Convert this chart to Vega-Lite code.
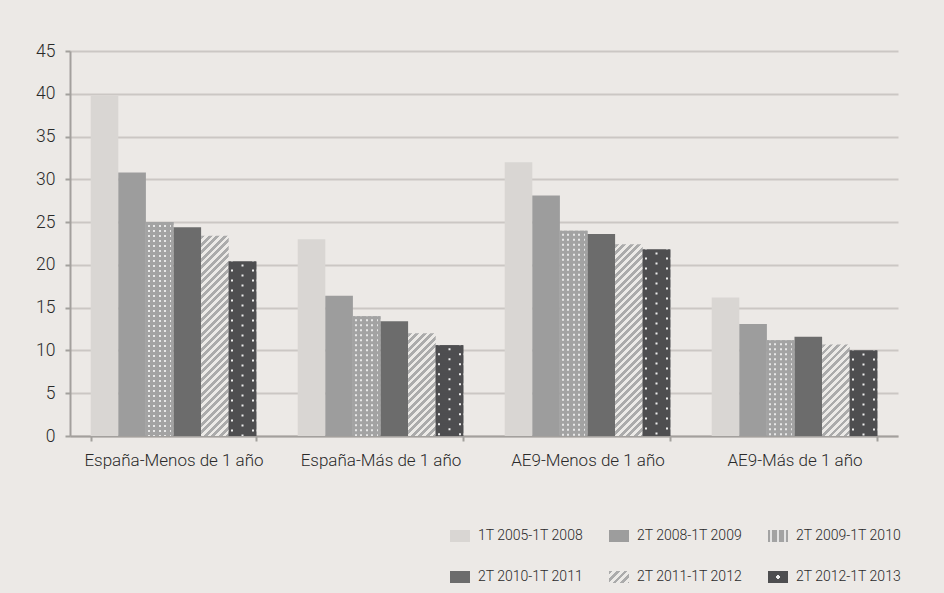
{
  "$schema": "https://vega.github.io/schema/vega-lite/v6.json",
  "width": 828,
  "height": 385,
  "autosize": "none",
  "padding": {"left": 70, "top": 51, "right": 46, "bottom": 157},
  "params": [
    {"name": "dotsMid", "value": [
      {"offset": 0, "color": "#a3a3a3"}, {"offset": 0.0725, "color": "#a3a3a3"}, {"offset": 0.0725, "color": "#e8e8e8"}, {"offset": 0.1449, "color": "#e8e8e8"}, {"offset": 0.1449, "color": "#a3a3a3"},
      {"offset": 0.2681, "color": "#a3a3a3"}, {"offset": 0.2681, "color": "#e8e8e8"}, {"offset": 0.3406, "color": "#e8e8e8"}, {"offset": 0.3406, "color": "#a3a3a3"},
      {"offset": 0.4638, "color": "#a3a3a3"}, {"offset": 0.4638, "color": "#e8e8e8"}, {"offset": 0.5362, "color": "#e8e8e8"}, {"offset": 0.5362, "color": "#a3a3a3"},
      {"offset": 0.6594, "color": "#a3a3a3"}, {"offset": 0.6594, "color": "#e8e8e8"}, {"offset": 0.7319, "color": "#e8e8e8"}, {"offset": 0.7319, "color": "#a3a3a3"},
      {"offset": 0.8551, "color": "#a3a3a3"}, {"offset": 0.8551, "color": "#e8e8e8"}, {"offset": 0.9275, "color": "#e8e8e8"}, {"offset": 0.9275, "color": "#a3a3a3"},
      {"offset": 1, "color": "#a3a3a3"}
    ]},
    {"name": "dotsLegend", "value": [
      {"offset": 0, "color": "#a3a3a3"}, {"offset": 0.12, "color": "#a3a3a3"}, {"offset": 0.12, "color": "#e4e4e4"}, {"offset": 0.22, "color": "#e4e4e4"}, {"offset": 0.22, "color": "#a3a3a3"},
      {"offset": 0.45, "color": "#a3a3a3"}, {"offset": 0.45, "color": "#e4e4e4"}, {"offset": 0.55, "color": "#e4e4e4"}, {"offset": 0.55, "color": "#a3a3a3"},
      {"offset": 0.78, "color": "#a3a3a3"}, {"offset": 0.78, "color": "#e4e4e4"}, {"offset": 0.88, "color": "#e4e4e4"}, {"offset": 0.88, "color": "#a3a3a3"},
      {"offset": 1, "color": "#a3a3a3"}
    ]},
    {"name": "dotsDark", "value": [
      {"offset": 0, "color": "#4e4e50"}, {"offset": 0.0725, "color": "#4e4e50"}, {"offset": 0.0725, "color": "#eeeeee"}, {"offset": 0.1449, "color": "#eeeeee"}, {"offset": 0.1449, "color": "#4e4e50"},
      {"offset": 0.8551, "color": "#4e4e50"}, {"offset": 0.8551, "color": "#eeeeee"}, {"offset": 0.9275, "color": "#eeeeee"}, {"offset": 0.9275, "color": "#4e4e50"},
      {"offset": 1, "color": "#4e4e50"}
    ]},
    {"name": "stripeStops", "value": [
      {"offset": 0, "color": "#ababab"},
      {"offset": 0.0156, "color": "#ababab"}, {"offset": 0.0156, "color": "#eceae7"},
      {"offset": 0.0313, "color": "#eceae7"}, {"offset": 0.0313, "color": "#ababab"},
      {"offset": 0.0469, "color": "#ababab"}, {"offset": 0.0469, "color": "#eceae7"},
      {"offset": 0.0625, "color": "#eceae7"}, {"offset": 0.0625, "color": "#ababab"},
      {"offset": 0.0781, "color": "#ababab"}, {"offset": 0.0781, "color": "#eceae7"},
      {"offset": 0.0938, "color": "#eceae7"}, {"offset": 0.0938, "color": "#ababab"},
      {"offset": 0.1094, "color": "#ababab"}, {"offset": 0.1094, "color": "#eceae7"},
      {"offset": 0.125, "color": "#eceae7"}, {"offset": 0.125, "color": "#ababab"},
      {"offset": 0.1406, "color": "#ababab"}, {"offset": 0.1406, "color": "#eceae7"},
      {"offset": 0.1563, "color": "#eceae7"}, {"offset": 0.1563, "color": "#ababab"},
      {"offset": 0.1719, "color": "#ababab"}, {"offset": 0.1719, "color": "#eceae7"},
      {"offset": 0.1875, "color": "#eceae7"}, {"offset": 0.1875, "color": "#ababab"},
      {"offset": 0.2031, "color": "#ababab"}, {"offset": 0.2031, "color": "#eceae7"},
      {"offset": 0.2188, "color": "#eceae7"}, {"offset": 0.2188, "color": "#ababab"},
      {"offset": 0.2344, "color": "#ababab"}, {"offset": 0.2344, "color": "#eceae7"},
      {"offset": 0.25, "color": "#eceae7"}, {"offset": 0.25, "color": "#ababab"},
      {"offset": 0.2656, "color": "#ababab"}, {"offset": 0.2656, "color": "#eceae7"},
      {"offset": 0.2813, "color": "#eceae7"}, {"offset": 0.2813, "color": "#ababab"},
      {"offset": 0.2969, "color": "#ababab"}, {"offset": 0.2969, "color": "#eceae7"},
      {"offset": 0.3125, "color": "#eceae7"}, {"offset": 0.3125, "color": "#ababab"},
      {"offset": 0.3281, "color": "#ababab"}, {"offset": 0.3281, "color": "#eceae7"},
      {"offset": 0.3438, "color": "#eceae7"}, {"offset": 0.3438, "color": "#ababab"},
      {"offset": 0.3594, "color": "#ababab"}, {"offset": 0.3594, "color": "#eceae7"},
      {"offset": 0.375, "color": "#eceae7"}, {"offset": 0.375, "color": "#ababab"},
      {"offset": 0.3906, "color": "#ababab"}, {"offset": 0.3906, "color": "#eceae7"},
      {"offset": 0.4063, "color": "#eceae7"}, {"offset": 0.4063, "color": "#ababab"},
      {"offset": 0.4219, "color": "#ababab"}, {"offset": 0.4219, "color": "#eceae7"},
      {"offset": 0.4375, "color": "#eceae7"}, {"offset": 0.4375, "color": "#ababab"},
      {"offset": 0.4531, "color": "#ababab"}, {"offset": 0.4531, "color": "#eceae7"},
      {"offset": 0.4688, "color": "#eceae7"}, {"offset": 0.4688, "color": "#ababab"},
      {"offset": 0.4844, "color": "#ababab"}, {"offset": 0.4844, "color": "#eceae7"},
      {"offset": 0.5, "color": "#eceae7"}, {"offset": 0.5, "color": "#ababab"},
      {"offset": 0.5156, "color": "#ababab"}, {"offset": 0.5156, "color": "#eceae7"},
      {"offset": 0.5313, "color": "#eceae7"}, {"offset": 0.5313, "color": "#ababab"},
      {"offset": 0.5469, "color": "#ababab"}, {"offset": 0.5469, "color": "#eceae7"},
      {"offset": 0.5625, "color": "#eceae7"}, {"offset": 0.5625, "color": "#ababab"},
      {"offset": 0.5781, "color": "#ababab"}, {"offset": 0.5781, "color": "#eceae7"},
      {"offset": 0.5938, "color": "#eceae7"}, {"offset": 0.5938, "color": "#ababab"},
      {"offset": 0.6094, "color": "#ababab"}, {"offset": 0.6094, "color": "#eceae7"},
      {"offset": 0.625, "color": "#eceae7"}, {"offset": 0.625, "color": "#ababab"},
      {"offset": 0.6406, "color": "#ababab"}, {"offset": 0.6406, "color": "#eceae7"},
      {"offset": 0.6563, "color": "#eceae7"}, {"offset": 0.6563, "color": "#ababab"},
      {"offset": 0.6719, "color": "#ababab"}, {"offset": 0.6719, "color": "#eceae7"},
      {"offset": 0.6875, "color": "#eceae7"}, {"offset": 0.6875, "color": "#ababab"},
      {"offset": 0.7031, "color": "#ababab"}, {"offset": 0.7031, "color": "#eceae7"},
      {"offset": 0.7188, "color": "#eceae7"}, {"offset": 0.7188, "color": "#ababab"},
      {"offset": 0.7344, "color": "#ababab"}, {"offset": 0.7344, "color": "#eceae7"},
      {"offset": 0.75, "color": "#eceae7"}, {"offset": 0.75, "color": "#ababab"},
      {"offset": 0.7656, "color": "#ababab"}, {"offset": 0.7656, "color": "#eceae7"},
      {"offset": 0.7813, "color": "#eceae7"}, {"offset": 0.7813, "color": "#ababab"},
      {"offset": 0.7969, "color": "#ababab"}, {"offset": 0.7969, "color": "#eceae7"},
      {"offset": 0.8125, "color": "#eceae7"}, {"offset": 0.8125, "color": "#ababab"},
      {"offset": 0.8281, "color": "#ababab"}, {"offset": 0.8281, "color": "#eceae7"},
      {"offset": 0.8438, "color": "#eceae7"}, {"offset": 0.8438, "color": "#ababab"},
      {"offset": 0.8594, "color": "#ababab"}, {"offset": 0.8594, "color": "#eceae7"},
      {"offset": 0.875, "color": "#eceae7"}, {"offset": 0.875, "color": "#ababab"},
      {"offset": 0.8906, "color": "#ababab"}, {"offset": 0.8906, "color": "#eceae7"},
      {"offset": 0.9063, "color": "#eceae7"}, {"offset": 0.9063, "color": "#ababab"},
      {"offset": 0.9219, "color": "#ababab"}, {"offset": 0.9219, "color": "#eceae7"},
      {"offset": 0.9375, "color": "#eceae7"}, {"offset": 0.9375, "color": "#ababab"},
      {"offset": 0.9531, "color": "#ababab"}, {"offset": 0.9531, "color": "#eceae7"},
      {"offset": 0.9688, "color": "#eceae7"}, {"offset": 0.9688, "color": "#ababab"},
      {"offset": 0.9844, "color": "#ababab"}, {"offset": 0.9844, "color": "#eceae7"},
      {"offset": 1, "color": "#eceae7"}
    ]}
  ],
  "data": {
    "values": [
      {"group": "España-Menos de 1 año", "series": "1T 2005-1T 2008", "value": 39.8},
      {"group": "España-Menos de 1 año", "series": "2T 2008-1T 2009", "value": 30.8},
      {"group": "España-Menos de 1 año", "series": "2T 2009-1T 2010", "value": 25.0},
      {"group": "España-Menos de 1 año", "series": "2T 2010-1T 2011", "value": 24.4},
      {"group": "España-Menos de 1 año", "series": "2T 2011-1T 2012", "value": 23.4},
      {"group": "España-Menos de 1 año", "series": "2T 2012-1T 2013", "value": 20.4},
      {"group": "España-Más de 1 año", "series": "1T 2005-1T 2008", "value": 23.0},
      {"group": "España-Más de 1 año", "series": "2T 2008-1T 2009", "value": 16.4},
      {"group": "España-Más de 1 año", "series": "2T 2009-1T 2010", "value": 14.0},
      {"group": "España-Más de 1 año", "series": "2T 2010-1T 2011", "value": 13.4},
      {"group": "España-Más de 1 año", "series": "2T 2011-1T 2012", "value": 12.0},
      {"group": "España-Más de 1 año", "series": "2T 2012-1T 2013", "value": 10.6},
      {"group": "AE9-Menos de 1 año", "series": "1T 2005-1T 2008", "value": 32.0},
      {"group": "AE9-Menos de 1 año", "series": "2T 2008-1T 2009", "value": 28.1},
      {"group": "AE9-Menos de 1 año", "series": "2T 2009-1T 2010", "value": 24.0},
      {"group": "AE9-Menos de 1 año", "series": "2T 2010-1T 2011", "value": 23.6},
      {"group": "AE9-Menos de 1 año", "series": "2T 2011-1T 2012", "value": 22.4},
      {"group": "AE9-Menos de 1 año", "series": "2T 2012-1T 2013", "value": 21.8},
      {"group": "AE9-Más de 1 año", "series": "1T 2005-1T 2008", "value": 16.2},
      {"group": "AE9-Más de 1 año", "series": "2T 2008-1T 2009", "value": 13.1},
      {"group": "AE9-Más de 1 año", "series": "2T 2009-1T 2010", "value": 11.2},
      {"group": "AE9-Más de 1 año", "series": "2T 2010-1T 2011", "value": 11.6},
      {"group": "AE9-Más de 1 año", "series": "2T 2011-1T 2012", "value": 10.7},
      {"group": "AE9-Más de 1 año", "series": "2T 2012-1T 2013", "value": 10.0}
    ]
  },
  "encoding": {
    "x": {
      "field": "group",
      "type": "nominal",
      "sort": ["España-Menos de 1 año", "España-Más de 1 año", "AE9-Menos de 1 año", "AE9-Más de 1 año"],
      "scale": {"paddingInner": 0.2, "paddingOuter": 0.1},
      "axis": {
        "title": null,
        "labelAngle": 0,
        "labelFontSize": 17,
        "labelPadding": 11,
        "labelLimit": 0,
        "tickBand": "extent",
        "tickSize": 5,
        "grid": false
      }
    },
    "xOffset": {
      "field": "series",
      "type": "nominal",
      "scale": {
        "domain": ["1T 2005-1T 2008", "2T 2008-1T 2009", "2T 2009-1T 2010", "2T 2010-1T 2011", "2T 2011-1T 2012", "2T 2012-1T 2013"],
        "paddingInner": 0,
        "paddingOuter": 0
      }
    },
    "y": {
      "field": "value",
      "type": "quantitative",
      "scale": {"domain": [0, 45], "nice": false},
      "axis": {
        "title": null,
        "values": [0, 5, 10, 15, 20, 25, 30, 35, 40, 45],
        "labelFontSize": 17.5,
        "labelPadding": 10,
        "tickSize": 5,
        "grid": true,
        "gridColor": "#cbc7c4",
        "gridWidth": 2
      }
    }
  },
  "layer": [
    {
      "mark": {"type": "bar"},
      "encoding": {
        "fill": {
          "field": "series",
          "type": "nominal",
          "scale": {
            "domain": ["1T 2005-1T 2008", "2T 2008-1T 2009", "2T 2009-1T 2010", "2T 2010-1T 2011", "2T 2011-1T 2012", "2T 2012-1T 2013"],
            "range": [
              "#d9d6d3",
              "#9d9d9d",
              {"expr": "{gradient: 'linear', x1: 0, y1: 0, x2: 1, y2: 0, stops: dotsLegend}"},
              "#6c6c6c",
              {"expr": "{gradient: 'linear', x1: 0, y1: 0, x2: 8.824, y2: 5.294, stops: stripeStops}"},
              {"expr": "{gradient: 'radial', x1: 0.5, y1: 0.5, r1: 0, x2: 0.5, y2: 0.5, r2: 0.5, stops: [{offset: 0, color: '#eeeeee'}, {offset: 0.16, color: '#eeeeee'}, {offset: 0.2, color: '#4e4e50'}, {offset: 1, color: '#4e4e50'}]}"}
            ]
          },
          "legend": {
            "title": null,
            "orient": "none",
            "legendX": 380,
            "legendY": 475,
            "direction": "horizontal",
            "columns": 3,
            "gridAlign": "all",
            "symbolType": "M-1,-0.6H1V0.6H-1Z",
            "symbolSize": 400,
            "symbolStrokeWidth": 0,
            "labelFontSize": 14,
            "labelOffset": 8,
            "labelLimit": 0,
            "labelColor": "#2a2a2a",
            "columnPadding": 25,
            "rowPadding": 24
          },
          "condition": [
            {"test": "datum.series === '2T 2009-1T 2010'", "value": {"expr": "{gradient: 'linear', x1: 0, y1: 0, x2: 1, y2: 0, stops: dotsMid}"}},
            {"test": "datum.series === '2T 2012-1T 2013'", "value": {"expr": "{gradient: 'linear', x1: 0, y1: 0, x2: 1, y2: 0, stops: dotsDark}"}},
            {"test": "datum.series === '2T 2011-1T 2012'", "value": {"expr": "{gradient: 'linear', x1: 0, y1: 0, x2: 240 * bandwidth('xOffset') / ((scale('y', 0) - scale('y', datum.value)) * (scale('y', 0) - scale('y', datum.value)) + bandwidth('xOffset') * bandwidth('xOffset')), y2: 240 * (scale('y', 0) - scale('y', datum.value)) / ((scale('y', 0) - scale('y', datum.value)) * (scale('y', 0) - scale('y', datum.value)) + bandwidth('xOffset') * bandwidth('xOffset')), stops: stripeStops}"}}
          ]
        }
      }
    },
    {
      "transform": [{"filter": "datum.series === '2T 2009-1T 2010' || datum.series === '2T 2012-1T 2013'"}],
      "mark": {"type": "rule", "strokeWidth": {"expr": "bandwidth('xOffset')"}, "strokeCap": "butt"},
      "encoding": {
        "y2": {"datum": 0},
        "stroke": {
          "condition": {"test": "datum.series === '2T 2012-1T 2013'", "value": "#4e4e50"},
          "value": "#a3a3a3"
        },
        "strokeDash": {
          "condition": {"test": "datum.series === '2T 2012-1T 2013'", "value": [8, 2]},
          "value": [3, 2]
        }
      }
    },
    {
      "transform": [{"filter": "datum.series === '2T 2012-1T 2013'"}],
      "mark": {"type": "rule", "strokeWidth": 2, "strokeCap": "butt", "stroke": "#eeeeee", "strokeDash": [2, 8], "strokeDashOffset": 7},
      "encoding": {
        "y2": {"datum": 0}
      }
    }
  ],
  "config": {
    "background": "#ece9e6",
    "view": {"stroke": null},
    "font": "Roboto, Liberation Sans, sans-serif",
    "axis": {
      "labelColor": "#2a2a2a",
      "labelFont": "Roboto, Liberation Sans, sans-serif",
      "labelFontWeight": 300,
      "domainColor": "#a3a09d",
      "domainWidth": 2,
      "tickColor": "#a3a09d",
      "tickWidth": 2
    },
    "legend": {
      "labelFont": "Roboto, Liberation Sans, sans-serif",
      "labelFontWeight": 300
    }
  }
}
